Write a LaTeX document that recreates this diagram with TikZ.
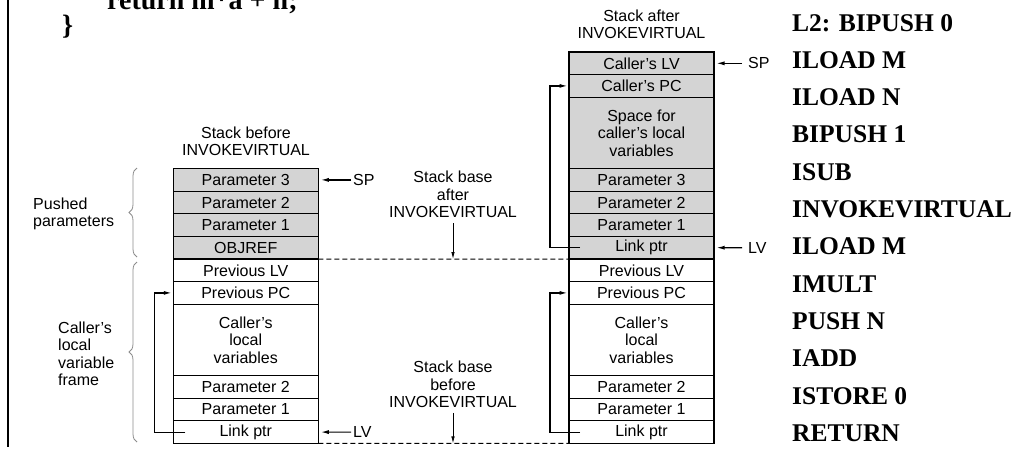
\documentclass[tikz,border=0pt]{standalone}
\usepackage{fontspec}
\setsansfont{Liberation Sans}
\setmainfont{Liberation Serif}
\usetikzlibrary{arrows.meta,positioning,decorations.pathreplacing,calc}
\begin{document}
\begin{tikzpicture}[x=1pt,y=-1pt,
 cell/.style={draw, line width=1.1pt, minimum width=145pt, minimum height=22.6pt, inner sep=0pt, outer sep=0pt, font=\sffamily\fontsize{16}{17.5}\selectfont, align=center},
 tall/.style={cell, minimum height=71.4pt},
 shade/.style={fill=black!17},
 lbl/.style={font=\sffamily\fontsize{16}{17.5}\selectfont, inner sep=0pt},
 ptr/.style={line width=1.2pt, -{Latex[length=8pt,width=4pt]}},
 code/.style={font=\rmfamily\bfseries\fontsize{25.5}{28}\selectfont, anchor=base west, inner sep=0pt},
 bigcode/.style={code, font=\rmfamily\bfseries\fontsize{28}{30}\selectfont},
 br/.style={decorate, decoration={brace, amplitude=8pt}, draw=black!45, line width=0.8pt}
]
\useasboundingbox (0,0) rectangle (1026,450);
\clip (0,0) rectangle (1026,450);
\fill[white] (0,0) rectangle (1026,450);

% left border rule
\coordinate (rt) at (8,0);
\coordinate (rb) at (8,447);
\draw[line width=1.4pt] (rt) -- (rb);

% code
\node[bigcode] (ret) at (107,9.5) {return m*a + n;};
\node[bigcode] (cb) at (62,34) {\}};
\foreach \t [count=\i from 0] in {L2: BIPUSH 0,ILOAD M,ILOAD N,BIPUSH 1,ISUB,INVOKEVIRTUAL,ILOAD M,IMULT,PUSH N,IADD,ISTORE 0,RETURN}
  \node[code] (c\i) at (792,{31+37.3*\i}) {\t};

% left stack
\node[cell,shade] (l1) at (245.75,179.9) {Parameter 3};
\node[cell,shade,below=0pt of l1] (l2) {Parameter 2};
\node[cell,shade,below=0pt of l2] (l3) {Parameter 1};
\node[cell,shade,below=0pt of l3] (l4) {OBJREF};
\node[cell,below=0pt of l4] (l5) {Previous LV};
\node[cell,below=0pt of l5] (l6) {Previous PC};
\node[tall,below=0pt of l6] (l7) {Caller's\\local\\variables};
\node[cell,below=0pt of l7] (l8) {Parameter 2};
\node[cell,below=0pt of l8] (l9) {Parameter 1};
\node[cell,below=0pt of l9] (l10) {Link ptr};

% right stack
\node[cell,shade] (r1) at (641.5,63.3) {Caller's LV};
\node[cell,shade,below=0pt of r1] (r2) {Caller's PC};
\node[tall,shade,below=0pt of r2] (r3) {Space for\\caller's local\\variables};
\node[cell,shade,below=0pt of r3] (r4) {Parameter 3};
\node[cell,shade,below=0pt of r4] (r5) {Parameter 2};
\node[cell,shade,below=0pt of r5] (r6) {Parameter 1};
\node[cell,shade,below=0pt of r6] (r7) {Link ptr};
\node[cell,below=0pt of r7] (r8) {Previous LV};
\node[cell,below=0pt of r8] (r9) {Previous PC};
\node[tall,below=0pt of r9] (r10) {Caller's\\local\\variables};
\node[cell,below=0pt of r10] (r11) {Parameter 2};
\node[cell,below=0pt of r11] (r12) {Parameter 1};
\node[cell,below=0pt of r12] (r13) {Link ptr};

% titles
\node[lbl,align=center] (tl) at (246,141.5) {Stack before\\INVOKEVIRTUAL};
\node[lbl,align=center] (tr) at (641.5,24.5) {Stack after\\INVOKEVIRTUAL};

% SP / LV pointers
\node[lbl,anchor=west] (spl) at (353,179.9) {SP};
\node[lbl,anchor=west] (lvl) at (353,432.1) {LV};
\node[lbl,anchor=west] (spr) at (748,63.3) {SP};
\node[lbl,anchor=west] (lvr) at (748,247.7) {LV};
\draw[ptr,shorten <=2pt,shorten >=2.5pt] (spl.west) -- (l1.east);
\draw[ptr,shorten <=2pt,shorten >=2.5pt] (lvl.west) -- (l10.east);
\draw[ptr,shorten <=6pt,shorten >=2.5pt] (spr.west) -- (r1.east);
\draw[ptr,shorten <=6pt,shorten >=2.5pt] (lvr.west) -- (r7.east);

% link pointers
\draw[ptr] ([xshift=12pt]l10.west) -- ++(-31,0) |- ([xshift=-1.5pt]l6.west);
\draw[ptr] ([xshift=11pt]r13.west) -- ++(-30,0) |- ([xshift=-1.5pt]r9.west);
\draw[ptr] ([xshift=11pt]r7.west) -- ++(-30,0) |- ([xshift=-1.5pt]r2.west);

% dashed base lines
\draw[line width=1pt,dash pattern=on 5pt off 3pt] (l4.south east) -- (r7.south west);
\draw[line width=1pt,dash pattern=on 5pt off 3pt] (l10.south east) -- (r13.south west);

% stack base labels
\node[lbl,align=center] (sba) at (453,194.5) {Stack base\\after\\INVOKEVIRTUAL};
\node[lbl,align=center] (sbb) at (453,384.3) {Stack base\\before\\INVOKEVIRTUAL};
\draw[line width=0.8pt,-{Latex[length=7pt,width=3.5pt]},shorten <=5pt] (sba.south) -- (sba.south |- l4.south);
\draw[line width=0.8pt,-{Latex[length=7pt,width=3.5pt]},shorten <=5pt] (sbb.south) -- (sbb.south |- l10.south);

% braces
\coordinate (b1b) at (137,257);
\coordinate (b1t) at (137,168);
\coordinate (b2b) at (137,442);
\coordinate (b2t) at (137,262);
\draw[br] (b1b) -- (b1t);
\draw[br] (b2b) -- (b2t);
\node[lbl,anchor=west,align=left] (pp) at (33,214) {Pushed\\parameters};
\node[lbl,anchor=west,align=left] (clf) at (58,353.7) {Caller's\\local\\variable\\frame};
\end{tikzpicture}
\end{document}
